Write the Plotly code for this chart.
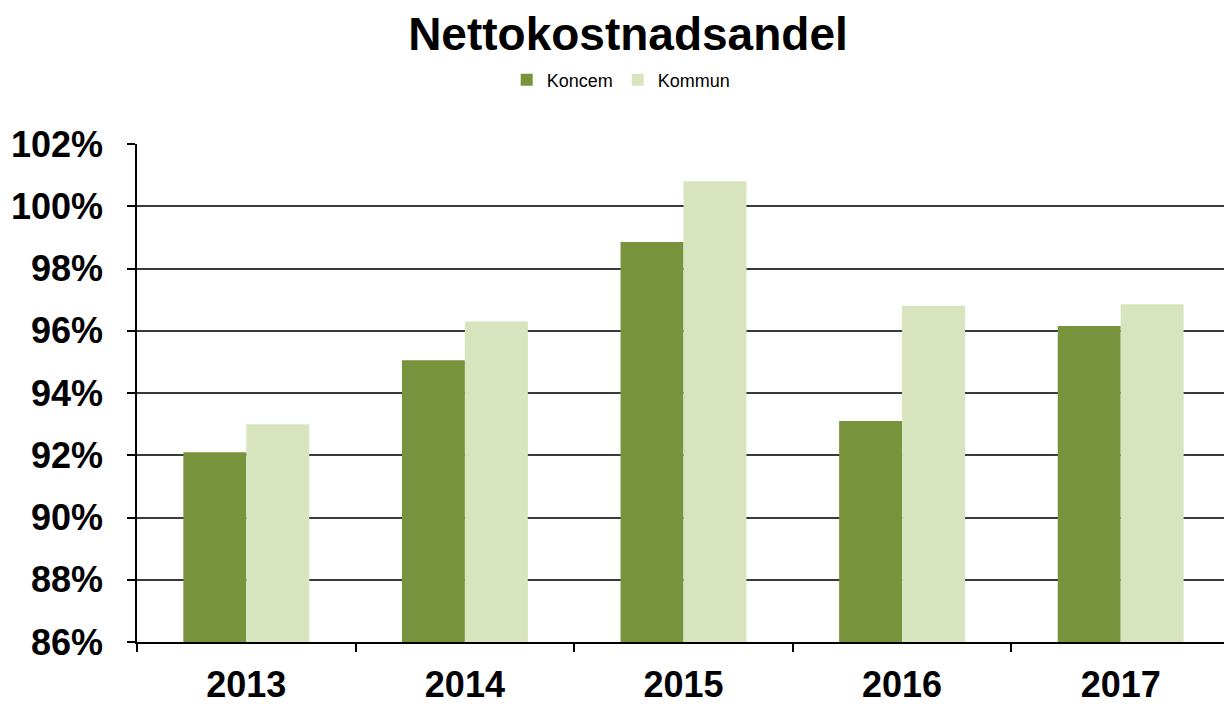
import plotly.graph_objects as go

years = ["2013", "2014", "2015", "2016", "2017"]
koncem = [92.1, 95.05, 98.85, 93.1, 96.15]
kommun = [93.0, 96.3, 100.8, 96.8, 96.85]
y_ticks = [86, 88, 90, 92, 94, 96, 98, 100, 102]

FONT = "Arial, Liberation Sans, sans-serif"

fig = go.Figure()
fig.add_trace(go.Bar(name="Koncem", x=years, y=koncem, marker=dict(color="#77933C", line=dict(width=0))))
fig.add_trace(go.Bar(name="Kommun", x=years, y=kommun, marker=dict(color="#D7E4BD", line=dict(width=0))))

fig.update_layout(
    width=1224, height=696,
    margin=dict(l=129, r=2, t=136, b=62, autoexpand=False),
    paper_bgcolor="white", plot_bgcolor="white",
    barmode="group", bargap=0.424, bargroupgap=0,
    title=dict(text="<b>Nettokostnadsandel</b>", x=0.5065, xanchor="center", y=0.963, yanchor="middle",
               font=dict(family=FONT, size=46, color="black")),
    legend=dict(orientation="h", x=0.443, xanchor="center", y=1.1285, yanchor="middle",
                font=dict(family=FONT, size=18, color="black"), itemwidth=30, traceorder="normal",
                tracegroupgap=0),
    showlegend=True,
)
fig.update_yaxes(
    range=[86, 102], tickvals=y_ticks, ticktext=[f"<b>{v}%</b>" for v in y_ticks],
    showgrid=True, gridcolor="#3a3a3a", gridwidth=1.5,
    showline=True, linecolor="black", linewidth=1.5,
    ticks="outside", ticklen=8, tickcolor="black", tickwidth=1.5,
    ticklabelstandoff=17, automargin=False,
    tickfont=dict(family=FONT, size=36, color="black"),
    zeroline=False,
)
fig.update_xaxes(
    showline=True, linecolor="black", linewidth=1.5,
    ticks="outside", ticklen=8, tickcolor="black", tickwidth=1.5, tickson="boundaries",
    ticklabelstandoff=10, automargin=False,
    tickfont=dict(family=FONT, size=36, color="black"),
    tickvals=years, ticktext=[f"<b>{y}</b>" for y in years],
    showgrid=False,
)

fig.write_html("out.html")
